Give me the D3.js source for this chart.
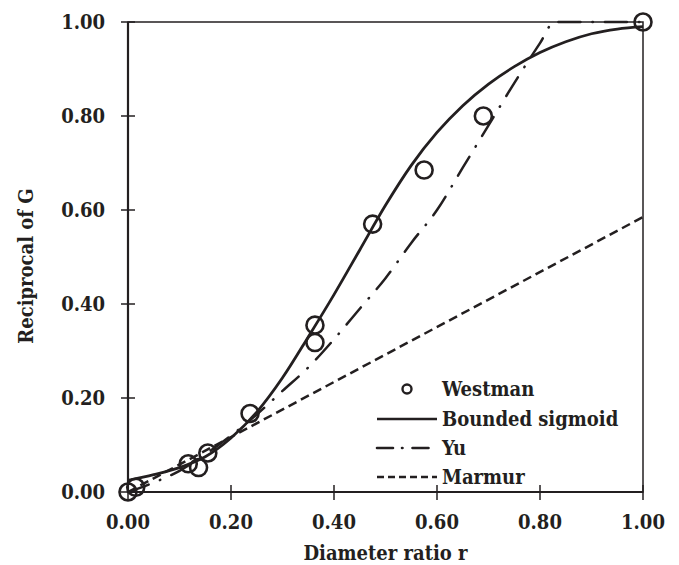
<!DOCTYPE html>
<html>
<head>
  <meta charset="utf-8">
  <script src="https://cdn.jsdelivr.net/npm/d3@7"></script>
  <style>
    body { margin: 0; background: #fff; }
    text {
      font-family: "DejaVu Serif Condensed", "DejaVu Serif", serif;
      font-stretch: condensed;
      font-weight: bold;
      fill: #231f20;
    }
  </style>
</head>
<body>
<script>
  // Westman measurements
  var westmanR = [0, 0.015, 0.117, 0.137, 0.155, 0.237, 0.363, 0.363, 0.475, 0.575, 0.69, 1.0];
  var westmanG = [0, 0.01, 0.06, 0.052, 0.083, 0.167, 0.355, 0.318, 0.57, 0.685, 0.80, 1.0];

  // bounded sigmoid fit
  var sigR = [0, 0.05, 0.1, 0.15, 0.2, 0.25, 0.3, 0.35, 0.4, 0.45, 0.5, 0.55, 0.6, 0.65, 0.7, 0.75, 0.8, 0.85, 0.9, 0.95, 1.0];
  var sigG = [0.025, 0.037, 0.052, 0.075, 0.115, 0.17, 0.243, 0.33, 0.42, 0.515, 0.61, 0.695, 0.765, 0.822, 0.868, 0.905, 0.935, 0.958, 0.975, 0.985, 0.99];

  // Yu
  var yuR = [0, 0.05, 0.1, 0.15, 0.2, 0.25, 0.3, 0.35, 0.4, 0.45, 0.5, 0.55, 0.6, 0.65, 0.7, 0.75, 0.8, 0.828, 1.0];
  var yuG = [0, 0.02, 0.045, 0.08, 0.12, 0.165, 0.215, 0.265, 0.325, 0.39, 0.455, 0.53, 0.6, 0.69, 0.78, 0.87, 0.955, 1.0, 1.0];

  // Marmur
  var marR = [0, 1.0];
  var marG = [0, 0.585];

  var xTicks = [0, 0.2, 0.4, 0.6, 0.8, 1.0];
  var yTicks = [0, 0.2, 0.4, 0.6, 0.8, 1.0];

  var legendNames = ["Westman", "Bounded sigmoid", "Yu", "Marmur"];

  (function() {
    var W = 679, H = 565;
    var pL = 128, pR = 643, pT = 22, pB = 492;

    var svg = d3.select("body").append("svg")
      .attr("width", W)
      .attr("height", H);

    var x = d3.scaleLinear().domain([0, 1]).range([pL, pR]);
    var y = d3.scaleLinear().domain([0, 1]).range([pB, pT]);

    var ink = "#231f20";

    function zip(a, b) {
      return a.map(function(v, i) { return [v, b[i]]; });
    }

    var line = d3.line()
      .x(function(d) { return x(d[0]); })
      .y(function(d) { return y(d[1]); });
    var curve = d3.line()
      .curve(d3.curveMonotoneX)
      .x(function(d) { return x(d[0]); })
      .y(function(d) { return y(d[1]); });

    // frame
    svg.append("rect")
      .attr("x", pL).attr("y", pT)
      .attr("width", pR - pL).attr("height", pB - pT)
      .attr("fill", "none").attr("stroke", ink).attr("stroke-width", 1.5);

    // model curves
    svg.append("path")
      .datum(zip(marR, marG))
      .attr("d", line)
      .attr("fill", "none").attr("stroke", ink)
      .attr("stroke-width", 2.5)
      .attr("stroke-dasharray", "9,5");

    svg.append("path")
      .datum(zip(yuR, yuG))
      .attr("d", curve)
      .attr("fill", "none").attr("stroke", ink)
      .attr("stroke-width", 2.5)
      .attr("stroke-linecap", "round")
      .attr("stroke-dasharray", "22,12,0.5,12");

    svg.append("path")
      .datum(zip(sigR, sigG))
      .attr("d", curve)
      .attr("fill", "none").attr("stroke", ink)
      .attr("stroke-width", 2.8);

    // axes (cross ticks)
    var xAxis = svg.append("g").attr("transform", "translate(0," + pB + ")");
    xAxis.append("line").attr("x1", pL).attr("x2", pR)
      .attr("stroke", ink).attr("stroke-width", 2.2);
    xAxis.selectAll(".tk").data(xTicks).enter().append("line")
      .attr("x1", function(d) { return x(d); }).attr("x2", function(d) { return x(d); })
      .attr("y1", -7).attr("y2", 8)
      .attr("stroke", ink).attr("stroke-width", 1.5);
    xAxis.selectAll(".lb").data(xTicks).enter().append("text")
      .attr("x", function(d) { return x(d); })
      .attr("y", 37)
      .attr("text-anchor", "middle")
      .style("font-size", "20px")
      .text(d3.format(".2f"));

    var yAxis = svg.append("g").attr("transform", "translate(" + pL + ",0)");
    yAxis.append("line").attr("y1", pT).attr("y2", pB)
      .attr("stroke", ink).attr("stroke-width", 2.2);
    yAxis.selectAll(".tk").data(yTicks).enter().append("line")
      .attr("y1", function(d) { return y(d); }).attr("y2", function(d) { return y(d); })
      .attr("x1", -7).attr("x2", 7)
      .attr("stroke", ink).attr("stroke-width", 1.5);
    yAxis.selectAll(".lb").data(yTicks).enter().append("text")
      .attr("x", -23)
      .attr("y", function(d) { return y(d) + 7; })
      .attr("text-anchor", "end")
      .style("font-size", "20px")
      .text(d3.format(".2f"));

    // Westman points
    svg.selectAll(".pt").data(zip(westmanR, westmanG)).enter().append("circle")
      .attr("cx", function(d) { return x(d[0]); })
      .attr("cy", function(d) { return y(d[1]); })
      .attr("r", 8.5)
      .attr("fill", "none").attr("stroke", ink).attr("stroke-width", 2.6);

    // axis titles
    svg.append("text")
      .attr("x", (pL + pR) / 2).attr("y", 560)
      .attr("text-anchor", "middle")
      .style("font-size", "20px")
      .text("Diameter ratio r");

    svg.append("text")
      .attr("transform", "translate(33," + ((pT + pB) / 2 + 9) + ") rotate(-90)")
      .attr("text-anchor", "middle")
      .style("font-size", "20px")
      .text("Reciprocal of G");

    // legend
    var lg = svg.append("g");
    var rowY = [396, 426, 455, 484];
    var sampleDash = [null, null, "16,9,0.5,10", "7,4"];
    legendNames.forEach(function(name, i) {
      var cy = rowY[i] - 7;
      if (i === 0) {
        lg.append("circle").attr("cx", 407).attr("cy", cy).attr("r", 4.5)
          .attr("fill", "none").attr("stroke", ink).attr("stroke-width", 2.4);
      } else {
        lg.append("line").attr("x1", 377).attr("x2", 437)
          .attr("y1", cy).attr("y2", cy)
          .attr("stroke", ink).attr("stroke-width", 2.6)
          .attr("stroke-linecap", i === 2 ? "round" : "butt")
          .attr("stroke-dasharray", sampleDash[i]);
      }
      lg.append("text")
        .attr("x", 442).attr("y", rowY[i])
        .style("font-size", "20px")
        .text(name);
    });
  })();
</script>
</body>
</html>
